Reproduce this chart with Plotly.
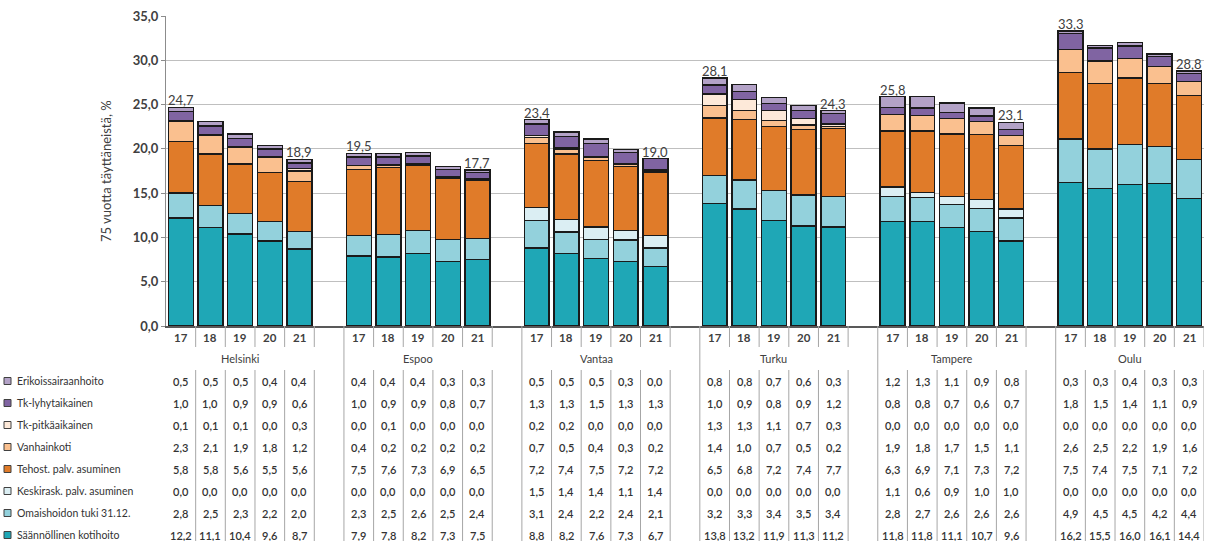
import plotly.graph_objects as go

# ---------------- data ----------------
cities = ["Helsinki", "Espoo", "Vantaa", "Turku", "Tampere", "Oulu"]
years = ["17", "18", "19", "20", "21"]

# series in table order (top row first); stacking is bottom = last
series_names = [
    "Erikoissairaanhoito",
    "Tk-lyhytaikainen",
    "Tk-pitkäaikainen",
    "Vanhainkoti",
    "Tehost. palv. asuminen",
    "Keskirask. palv. asuminen",
    "Omaishoidon tuki 31.12.",
    "Säännöllinen kotihoito",
]
series_colors = [
    "#B3A2C7", "#8064A2", "#FDE9D9", "#FAC08F",
    "#E07B29", "#DBEEF3", "#93D1DC", "#1FA7B6",
]

erikois = [0.5, 0.5, 0.5, 0.4, 0.4,  0.4, 0.4, 0.4, 0.3, 0.3,  0.5, 0.5, 0.5, 0.3, 0.0,
           0.8, 0.8, 0.7, 0.6, 0.3,  1.2, 1.3, 1.1, 0.9, 0.8,  0.3, 0.3, 0.4, 0.3, 0.3]
tk_lyhyt = [1.0, 1.0, 0.9, 0.9, 0.6,  1.0, 0.9, 0.9, 0.8, 0.7,  1.3, 1.3, 1.5, 1.3, 1.3,
            1.0, 0.9, 0.8, 0.9, 1.2,  0.8, 0.8, 0.7, 0.6, 0.7,  1.8, 1.5, 1.4, 1.1, 0.9]
tk_pitka = [0.1, 0.1, 0.1, 0.0, 0.3,  0.0, 0.1, 0.0, 0.0, 0.0,  0.2, 0.2, 0.0, 0.0, 0.0,
            1.3, 1.3, 1.1, 0.7, 0.3,  0.0, 0.0, 0.0, 0.0, 0.0,  0.0, 0.0, 0.0, 0.0, 0.0]
vanhainkoti = [2.3, 2.1, 1.9, 1.8, 1.2,  0.4, 0.2, 0.2, 0.2, 0.2,  0.7, 0.5, 0.4, 0.3, 0.2,
               1.4, 1.0, 0.7, 0.5, 0.2,  1.9, 1.8, 1.7, 1.5, 1.1,  2.6, 2.5, 2.2, 1.9, 1.6]
tehost = [5.8, 5.8, 5.6, 5.5, 5.6,  7.5, 7.6, 7.3, 6.9, 6.5,  7.2, 7.4, 7.5, 7.2, 7.2,
          6.5, 6.8, 7.2, 7.4, 7.7,  6.3, 6.9, 7.1, 7.3, 7.2,  7.5, 7.4, 7.5, 7.1, 7.2]
keskirask = [0.0, 0.0, 0.0, 0.0, 0.0,  0.0, 0.0, 0.0, 0.0, 0.0,  1.5, 1.4, 1.4, 1.1, 1.4,
             0.0, 0.0, 0.0, 0.0, 0.0,  1.1, 0.6, 0.9, 1.0, 1.0,  0.0, 0.0, 0.0, 0.0, 0.0]
omaishoito = [2.8, 2.5, 2.3, 2.2, 2.0,  2.3, 2.5, 2.6, 2.5, 2.4,  3.1, 2.4, 2.2, 2.4, 2.1,
              3.2, 3.3, 3.4, 3.5, 3.4,  2.8, 2.7, 2.6, 2.6, 2.6,  4.9, 4.5, 4.5, 4.2, 4.4]
kotihoito = [12.2, 11.1, 10.4, 9.6, 8.7,  7.9, 7.8, 8.2, 7.3, 7.5,  8.8, 8.2, 7.6, 7.3, 6.7,
             13.8, 13.2, 11.9, 11.3, 11.2,  11.8, 11.8, 11.1, 10.7, 9.6,  16.2, 15.5, 16.0, 16.1, 14.4]

series_values = [erikois, tk_lyhyt, tk_pitka, vanhainkoti, tehost, keskirask, omaishoito, kotihoito]

# total labels shown above first and last year of each city
total_labels = [24.7, 18.9, 19.5, 17.7, 23.4, 19.0, 28.1, 24.3, 25.8, 23.1, 33.3, 28.8]

y_ticks = [0, 5, 10, 15, 20, 25, 30, 35]

# ---------------- layout helpers ----------------
W, H = 1205, 541
ML, MR, MT, MB = 166, 1, 16, 215
PH = H - MT - MB
PW = W - ML - MR
n_years = len(years)
stride = n_years + 1          # one empty slot between cities
n_slots = len(cities) * stride - 1


def fmt(v):
    return f"{v:.1f}".replace(".", ",")


def py2paper(py):
    return (H - MB - py) / PH


def px2paper(px):
    return (px - ML) / PW


xpos = [g * stride + j for g in range(len(cities)) for j in range(n_years)]

FONT = "Lato"
TXT = "#333333"

fig = go.Figure()

# stacked bars, bottom series first
for name, col, vals in reversed(list(zip(series_names, series_colors, series_values))):
    fig.add_trace(go.Bar(
        x=xpos, y=vals, name=name,
        marker=dict(color=col, line=dict(color="#1a1a1a", width=1.4)),
        hovertemplate=name + ": %{y:.1f}<extra></extra>",
    ))

annotations = []
shapes = []

# total labels on first and last bar of each city
for g in range(len(cities)):
    for k, j in enumerate([0, n_years - 1]):
        idx = g * n_years + j
        tot = sum(s[idx] for s in series_values)
        annotations.append(dict(
            x=xpos[idx], y=tot, xref="x", yref="y", text=fmt(total_labels[2 * g + k]),
            showarrow=False, yanchor="bottom", yshift=-3,
            font=dict(family=FONT, size=13, color="#404040"),
        ))

# y-axis title
annotations.append(dict(
    x=px2paper(106), y=0.5, xref="paper", yref="paper", text="75 vuotta täyttäneistä, %",
    textangle=-90, showarrow=False, xanchor="center", yanchor="middle",
    font=dict(family=FONT, size=13, color="#404040"),
))

# year labels row
year_py = 337
for g in range(len(cities)):
    for j in range(n_years):
        annotations.append(dict(
            x=g * stride + j, y=py2paper(year_py), xref="x", yref="paper", text=years[j],
            showarrow=False, xanchor="center", yanchor="middle",
            font=dict(family=FONT, size=11.5, color="#404040", weight="bold"),
        ))
    # city label
    annotations.append(dict(
        x=g * stride + (n_years - 1) / 2, y=py2paper(358), xref="x", yref="paper",
        text=cities[g], showarrow=False, xanchor="center", yanchor="middle",
        font=dict(family=FONT, size=11, color="#404040"),
    ))

# data table rows
row_py0, row_dy = 381, 22.0
for r, (name, col, vals) in enumerate(zip(series_names, series_colors, series_values)):
    py = row_py0 + r * row_dy
    # swatch
    shapes.append(dict(
        type="rect", xref="paper", yref="paper",
        x0=px2paper(4), x1=px2paper(11), y0=py2paper(py + 3.5), y1=py2paper(py - 3.5),
        fillcolor=col, line=dict(color="#404040", width=1),
    ))
    annotations.append(dict(
        x=px2paper(15), y=py2paper(py), xref="paper", yref="paper", text=name,
        showarrow=False, xanchor="left", yanchor="middle",
        font=dict(family=FONT, size=10.5, color=TXT),
    ))
    for i, v in enumerate(vals):
        annotations.append(dict(
            x=xpos[i], y=py2paper(py), xref="x", yref="paper", text=fmt(v),
            showarrow=False, xanchor="center", yanchor="middle",
            font=dict(family=FONT, size=11, color=TXT, weight=600),
        ))

# separator lines
LINE = "#a6a6a6"
for g in range(len(cities)):
    base = g * stride
    for j in range(n_years):
        xb = base + j + 0.5  # boundary right of each year column
        shapes.append(dict(type="line", xref="x", yref="paper", x0=xb, x1=xb,
                           y0=py2paper(H - MB), y1=py2paper(347), line=dict(color=LINE, width=1)))
        shapes.append(dict(type="line", xref="x", yref="paper", x0=xb, x1=xb,
                           y0=py2paper(370), y1=py2paper(H), line=dict(color=LINE, width=1)))
    if g > 0:
        xb = base - 0.5
        shapes.append(dict(type="line", xref="x", yref="paper", x0=xb, x1=xb,
                           y0=py2paper(H - MB), y1=py2paper(H), line=dict(color=LINE, width=1)))

fig.update_layout(
    width=W, height=H,
    margin=dict(l=ML, r=MR, t=MT, b=MB, pad=0),
    barmode="stack", bargap=0.16,
    plot_bgcolor="white", paper_bgcolor="white",
    showlegend=False,
    separators=", ",
    font=dict(family=FONT, color="#404040"),
    annotations=annotations, shapes=shapes,
    xaxis=dict(range=[-0.5, n_slots - 0.5], showticklabels=False, showgrid=False,
               zeroline=False, showline=True, linecolor="#595959", linewidth=1.5, ticks=""),
    yaxis=dict(range=[0, 35], tickvals=y_ticks, tickformat=".1f", showgrid=True,
               gridcolor="#bfbfbf", gridwidth=1, zeroline=False, showline=True,
               linecolor="#8c8c8c", linewidth=1, ticks="outside", ticklen=4,
               tickcolor="#8c8c8c",
               tickfont=dict(family=FONT, size=13, color="#404040", weight="bold")),
)

fig.write_html(
    "out.html",
    config={"displayModeBar": False},
    post_script="document.body.style.margin='0';document.body.style.overflow='hidden';",
)
